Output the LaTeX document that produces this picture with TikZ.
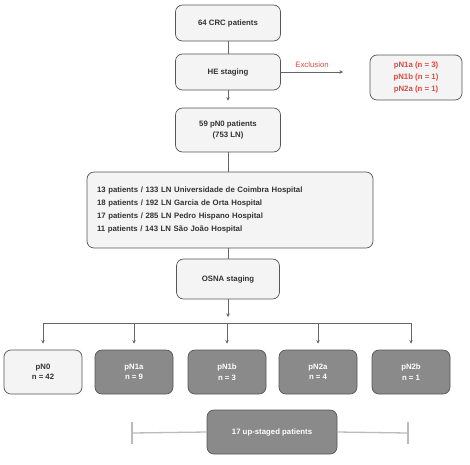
\documentclass[tikz,border=0pt]{standalone}
\usepackage{fontspec}
\setmainfont{Liberation Sans}
\usetikzlibrary{arrows.meta}
\definecolor{bordc}{HTML}{555555}
\definecolor{lightf}{HTML}{F4F4F4}
\definecolor{darkf}{HTML}{8A8A8A}
\definecolor{txtc}{HTML}{333333}
\definecolor{redc}{HTML}{E0483E}
\definecolor{linec}{HTML}{666666}
\definecolor{bracec}{HTML}{BBBBBB}
\tikzset{
  basebox/.style={rounded corners=7pt, draw=bordc, line width=0.7pt, inner sep=2pt, align=center,
    font=\fontsize{7.8}{10.5}\selectfont\bfseries},
  lightbox/.style={basebox, fill=lightf, text=txtc},
  darkbox/.style={basebox, fill=darkf, text=white},
  conn/.style={draw=linec, line width=0.6pt},
  arr/.style={conn, -{Stealth[length=3.5pt,width=3.5pt]}},
  bracel/.style={draw=bracec, line width=1.3pt}
}
\begin{document}
\begin{tikzpicture}[x=1pt,y=-1pt]
\useasboundingbox (0,0) rectangle (470,464);
\node[lightbox, minimum width=105pt, minimum height=36pt] (crc) at (228,23) {64 CRC patients};
\node[lightbox, minimum width=105pt, minimum height=36pt] (he) at (228,72) {HE staging};
\node[lightbox, minimum width=105pt, minimum height=44pt] (n59) at (228,130) {59 pN0 patients\\(753 LN)};
\node[lightbox, minimum width=286pt, minimum height=76pt, inner xsep=10pt, text width=266pt, align=left,
  font=\fontsize{7.8}{13.3}\selectfont\bfseries] (big) at (230,210)
  {13 patients / 133 LN Universidade de Coimbra Hospital\\
   18 patients / 192 LN Garcia de Orta Hospital\\
   17 patients / 285 LN Pedro Hispano Hospital\\
   11 patients / 143 LN São João Hospital};
\node[lightbox, minimum width=103pt, minimum height=40pt] (osna) at (228,279) {OSNA staging};
\node[lightbox, minimum width=92pt, minimum height=45pt, text=redc,
  font=\fontsize{7.8}{12}\selectfont\bfseries] (excl) at (416,77.5) {pN1a (n = 3)\\pN1b (n = 1)\\pN2a (n = 1)};
\node[lightbox, minimum width=78pt, minimum height=44pt] (pn0) at (43,372) {pN0\\n = 42};
\node[darkbox, minimum width=78pt, minimum height=44pt] (pn1a) at (134,372) {pN1a\\n = 9};
\node[darkbox, minimum width=78pt, minimum height=44pt] (pn1b) at (227,372) {pN1b\\n = 3};
\node[darkbox, minimum width=78pt, minimum height=44pt] (pn2a) at (318,372) {pN2a\\n = 4};
\node[darkbox, minimum width=78pt, minimum height=44pt] (pn2b) at (411,372) {pN2b\\n = 1};
% connectors
\draw[conn] (crc) -- (he);
\draw[arr, shorten >=7pt] (he) -- (n59);
\draw[conn] (n59.south) -- (n59.south |- big.north);
\draw[conn] (osna.north |- big.south) -- (osna.north);
\coordinate (exend) at (343,72);
\draw[arr] (he.east) -- (exend);
\node[text=redc, font=\fontsize{7.8}{10}\selectfont, anchor=base] (exlab) at (312,67) {Exclusion};
\coordinate (osnatip) at (228,317);
\draw[arr] (osna.south) -- (osnatip);
\coordinate (hl) at (43,323);
\coordinate (hr) at (411,323);
\draw[conn] (hl) -- (hr);
\foreach \b in {pn0,pn1a,pn1b,pn2a,pn2b}{
  \draw[arr, shorten >=6pt] (\b.north |- hl) -- (\b.north);
}
% up-staged
\node[darkbox, minimum width=130pt, minimum height=44pt] (up) at (272,432) {17 up-staged patients};
\coordinate (bl) at (132,433);
\coordinate (br) at (408,433);
\draw[bracel] (bl) -- (up.west);
\draw[bracel] (up.east) -- (br);
\draw[bracel] (132,422) -- (132,444);
\draw[bracel] (408,422) -- (408,444);
\end{tikzpicture}
\end{document}
